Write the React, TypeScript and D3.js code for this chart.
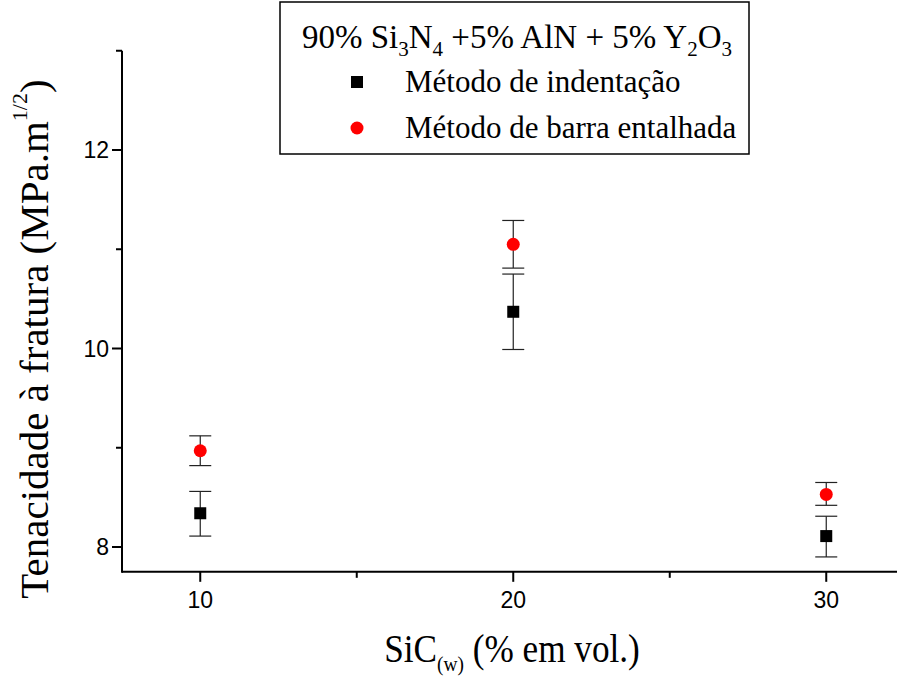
import React from "react"
import * as d3 from "d3"

const sic = [10, 20, 30]
const indentacao = [8.34, 10.37, 8.11]
const indentacaoLow = [8.11, 9.99, 7.9]
const indentacaoHigh = [8.56, 10.75, 8.31]
const barra = [8.97, 11.05, 8.53]
const barraLow = [8.82, 10.81, 8.42]
const barraHigh = [9.12, 11.29, 8.65]
const yTicks = [8, 10, 12]
const yMinor = [9, 11, 13]
const xTicks = [10, 20, 30]
const xMinor = [15, 25]

const serif = {fontFamily: "Liberation Serif, Times New Roman, serif"}
const sans = {fontFamily: "Liberation Sans, Arial, sans-serif"}

const App = () => {
    const W = 897, H = 677
    const x = d3.scaleLinear().domain([7.5, 32.5]).range([122, 904.5])
    const y = d3.scaleLinear().domain([8, 12]).range([547, 150])
    const y0 = y(7.75), yTop = y(13)

    const errBar = (xv, lo, hi, key) => {
        const cx = x(xv)
        return (
            <g key={key} stroke="#222" strokeWidth={1.2}>
                <line x1={cx} x2={cx} y1={y(lo)} y2={y(hi)} />
                <line x1={cx - 11} x2={cx + 11} y1={y(lo)} y2={y(lo)} />
                <line x1={cx - 11} x2={cx + 11} y1={y(hi)} y2={y(hi)} />
            </g>
        )
    }

    return (
        <svg width={W} height={H} style={{position: "absolute", left: 0, top: 0, background: "#fff"}}>
            {/* axes */}
            <line x1={122} x2={W} y1={y0} y2={y0} stroke="#000" strokeWidth={2} />
            <line x1={122} x2={122} y1={yTop} y2={y0 + 1} stroke="#000" strokeWidth={2} />
            {yTicks.map(t => (
                <g key={"y" + t}>
                    <line x1={112} x2={122} y1={y(t)} y2={y(t)} stroke="#000" strokeWidth={2} />
                    <text x={109} y={y(t) + 8} textAnchor="end" fontSize={23} style={sans}>{t}</text>
                </g>
            ))}
            {yMinor.map(t => (
                <line key={"ym" + t} x1={116} x2={122} y1={y(t)} y2={y(t)} stroke="#000" strokeWidth={2} />
            ))}
            {xTicks.map(t => (
                <g key={"x" + t}>
                    <line x1={x(t)} x2={x(t)} y1={y0} y2={y0 + 10} stroke="#000" strokeWidth={2} />
                    <text x={x(t)} y={608} textAnchor="middle" fontSize={23} style={sans}>{t}</text>
                </g>
            ))}
            {xMinor.map(t => (
                <line key={"xm" + t} x1={x(t)} x2={x(t)} y1={y0} y2={y0 + 6} stroke="#000" strokeWidth={2} />
            ))}

            {/* error bars and points */}
            {sic.map((s, i) => errBar(s, indentacaoLow[i], indentacaoHigh[i], "ei" + i))}
            {sic.map((s, i) => errBar(s, barraLow[i], barraHigh[i], "eb" + i))}
            {sic.map((s, i) => (
                <rect key={"s" + i} x={x(s) - 6} y={y(indentacao[i]) - 6} width={12} height={12} fill="#000" />
            ))}
            {sic.map((s, i) => (
                <circle key={"c" + i} cx={x(s)} cy={y(barra[i])} r={6.5} fill="#f00" />
            ))}

            {/* axis titles */}
            <text transform="translate(512,662) scale(0.88,1)" textAnchor="middle" fontSize={40} style={serif}>
                SiC<tspan fontSize={22} dy={9}>(w)</tspan><tspan dy={-9}> (% em vol.)</tspan>
            </text>
            <text transform="translate(48,339) rotate(-90)" textAnchor="middle" fontSize={41} style={serif}>
                Tenacidade à fratura (MPa.m<tspan fontSize={22} dy={-21}>1/2</tspan><tspan dy={21}>)</tspan>
            </text>

            {/* legend */}
            <rect x={280} y={2} width={469} height={152} fill="#fff" stroke="#000" strokeWidth={1.5} />
            <text x={517} y={48} textAnchor="middle" fontSize={33} style={serif}>
                90% Si<tspan fontSize={21} dy={8}>3</tspan><tspan dy={-8}>N</tspan><tspan fontSize={21} dy={8}>4</tspan><tspan dy={-8}> +5% AlN + 5% Y</tspan><tspan fontSize={21} dy={8}>2</tspan><tspan dy={-8}>O</tspan><tspan fontSize={21} dy={8}>3</tspan>
            </text>
            <rect x={351} y={76} width={12} height={12} fill="#000" />
            <text x={405} y={92} fontSize={31} style={serif}>Método de indentação</text>
            <circle cx={357} cy={128} r={6.5} fill="#f00" />
            <text x={405} y={138} fontSize={31} style={serif}>Método de barra entalhada</text>
        </svg>
    )
}

export default App
